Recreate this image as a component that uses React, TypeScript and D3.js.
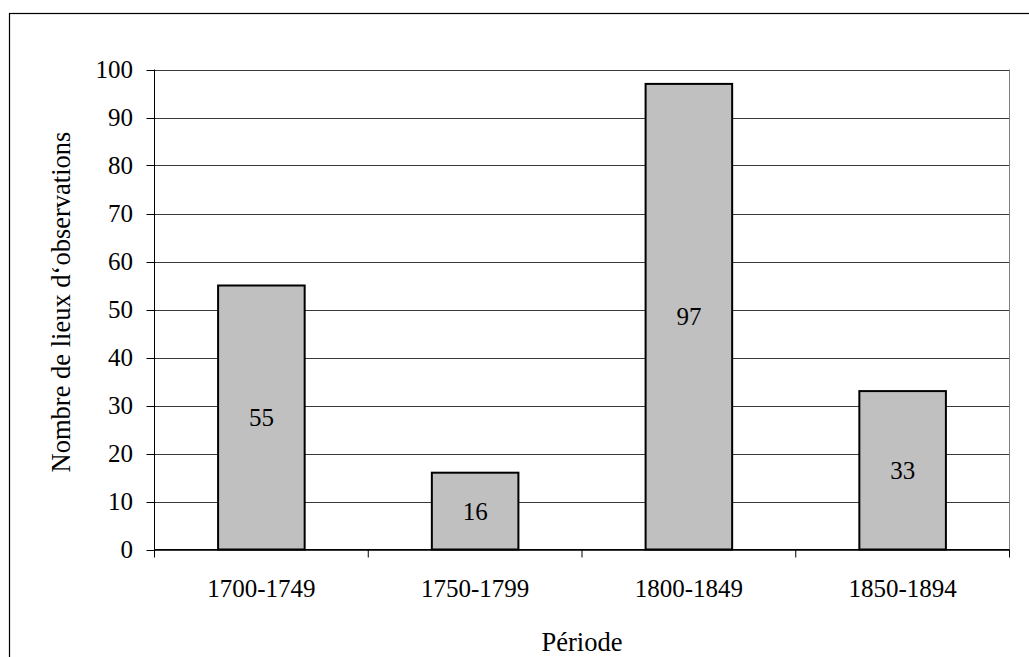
import React from "react";
import * as d3 from "d3";

const categories = ["1700-1749", "1750-1799", "1800-1849", "1850-1894"];
const values = [55, 16, 97, 33];
const yTicks = [0, 10, 20, 30, 40, 50, 60, 70, 80, 90, 100];
const xTitle = "Période";
const yTitle = "Nombre de lieux d‘observations";

export default function App() {
  const W = 1029;
  const H = 657;
  const left = 154.5;
  const right = 1009.5;
  const top = 69.5;
  const bottom = 549.5;
  const font = "Liberation Serif, Times New Roman, Tinos, DejaVu Serif, serif";
  const fs = 25;

  const x = d3
    .scaleBand<string>()
    .domain(categories)
    .range([left, right])
    .paddingInner(0.595)
    .paddingOuter(0.2975);
  const y = d3.scaleLinear().domain([0, 100]).range([bottom, top]);
  const step = (right - left) / categories.length;
  const boundaries = d3.range(categories.length + 1).map((i) => left + i * step);
  const ts = { fontFamily: font, fontSize: fs } as React.CSSProperties;
  const tts = { fontFamily: font, fontSize: 26.5 } as React.CSSProperties;

  return (
    <svg
      width={W}
      height={H}
      style={{ position: "absolute", left: 0, top: 0, background: "#fff", fontFamily: font }}
    >
      <rect x={9.5} y={13.5} width={1100} height={800} fill="#fff" stroke="#000" strokeWidth={1.2} />
      {yTicks.map((t) => (
        <line key={"g" + t} x1={left} x2={right} y1={Math.round(y(t)) + 0.5} y2={Math.round(y(t)) + 0.5} stroke="#3a3a3a" strokeWidth={1} />
      ))}
      <line x1={right} x2={right} y1={top} y2={bottom} stroke="#808080" strokeWidth={1} />
      {categories.map((c, i) => (
        <g key={c}>
          <rect
            x={x(c)!}
            y={y(values[i])}
            width={x.bandwidth()}
            height={y(0) - y(values[i])}
            fill="#c0c0c0"
            stroke="#000"
            strokeWidth={2}
          />
          <text
            x={x(c)! + x.bandwidth() / 2}
            y={(y(values[i]) + y(0)) / 2}
            textAnchor="middle"
            dominantBaseline="central"
            style={ts}
            fill="#000"
          >
            {values[i]}
          </text>
          <text
            x={x(c)! + x.bandwidth() / 2}
            y={597}
            textAnchor="middle"
            style={ts}
            fill="#000"
          >
            {c}
          </text>
        </g>
      ))}
      <line x1={left} x2={left} y1={top} y2={bottom} stroke="#000" strokeWidth={1} />
      {yTicks.map((t) => (
        <g key={"t" + t}>
          <line x1={left - 8} x2={left} y1={Math.round(y(t)) + 0.5} y2={Math.round(y(t)) + 0.5} stroke="#000" strokeWidth={1} />
          <text
            x={133}
            y={y(t)}
            textAnchor="end"
            dominantBaseline="central"
            style={ts}
            fill="#000"
          >
            {t}
          </text>
        </g>
      ))}
      <line x1={left} x2={right} y1={bottom} y2={bottom} stroke="#000" strokeWidth={1} />
      {boundaries.map((b, i) => (
        <line key={"b" + i} x1={b} x2={b} y1={bottom} y2={bottom + 8} stroke="#000" strokeWidth={1} />
      ))}
      <text x={582} y={651} textAnchor="middle" style={tts} fill="#000">
        {xTitle}
      </text>
      <text
        transform={`translate(70, 302) rotate(-90)`}
        textAnchor="middle"
        style={tts}
        fill="#000"
      >
        {yTitle}
      </text>
    </svg>
  );
}
